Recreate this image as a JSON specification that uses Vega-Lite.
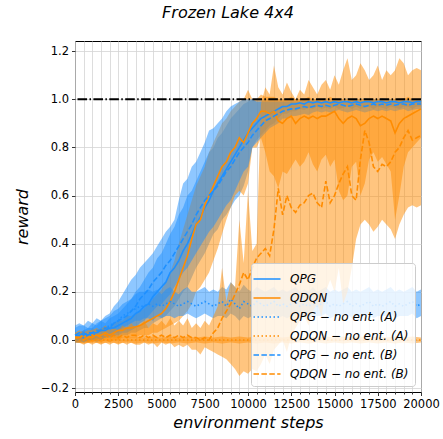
{
"$schema": "https://vega.github.io/schema/vega-lite/v6.json",
"width": 346, "height": 351,
"autosize": {"type": "none"},
"padding": {"left": 75, "top": 41, "right": 22, "bottom": 47},
"background": "white",
"title": {"text": "Frozen Lake 4x4", "font": "DejaVu Sans", "fontSize": 16, "fontStyle": "italic", "fontWeight": "normal", "color": "#000", "anchor": "middle", "dx": -20, "offset": 7, "baseline": "alphabetic"},
"data": {"values": [
{"s":"QPG","x":0,"m":0.02,"lo":-0.01,"hi":0.05},{"s":"QPG","x":250,"m":0.02,"lo":-0.01,"hi":0.06},{"s":"QPG","x":500,"m":0.03,"lo":0,"hi":0.06},{"s":"QPG","x":750,"m":0.02,"lo":-0.01,"hi":0.05},{"s":"QPG","x":1000,"m":0.03,"lo":0,"hi":0.07},{"s":"QPG","x":1250,"m":0.03,"lo":-0.01,"hi":0.06},{"s":"QPG","x":1500,"m":0.04,"lo":0,"hi":0.08},{"s":"QPG","x":1750,"m":0.04,"lo":0.01,"hi":0.07},{"s":"QPG","x":2000,"m":0.05,"lo":0.01,"hi":0.09},{"s":"QPG","x":2250,"m":0.05,"lo":0.01,"hi":0.1},{"s":"QPG","x":2500,"m":0.06,"lo":0.01,"hi":0.11},{"s":"QPG","x":2750,"m":0.07,"lo":0.02,"hi":0.13},{"s":"QPG","x":3000,"m":0.08,"lo":0.02,"hi":0.15},{"s":"QPG","x":3250,"m":0.09,"lo":0.03,"hi":0.17},{"s":"QPG","x":3500,"m":0.11,"lo":0.03,"hi":0.2},{"s":"QPG","x":3750,"m":0.12,"lo":0.04,"hi":0.22},{"s":"QPG","x":4000,"m":0.14,"lo":0.05,"hi":0.25},{"s":"QPG","x":4250,"m":0.15,"lo":0.05,"hi":0.28},{"s":"QPG","x":4500,"m":0.18,"lo":0.07,"hi":0.3},{"s":"QPG","x":4750,"m":0.2,"lo":0.08,"hi":0.34},{"s":"QPG","x":5000,"m":0.22,"lo":0.09,"hi":0.36},{"s":"QPG","x":5250,"m":0.24,"lo":0.1,"hi":0.4},{"s":"QPG","x":5500,"m":0.28,"lo":0.12,"hi":0.44},{"s":"QPG","x":5750,"m":0.3,"lo":0.14,"hi":0.47},{"s":"QPG","x":6000,"m":0.33,"lo":0.17,"hi":0.52},{"s":"QPG","x":6250,"m":0.37,"lo":0.2,"hi":0.55},{"s":"QPG","x":6500,"m":0.4,"lo":0.22,"hi":0.6},{"s":"QPG","x":6750,"m":0.44,"lo":0.26,"hi":0.62},{"s":"QPG","x":7000,"m":0.48,"lo":0.3,"hi":0.66},{"s":"QPG","x":7250,"m":0.51,"lo":0.33,"hi":0.7},{"s":"QPG","x":7500,"m":0.55,"lo":0.36,"hi":0.74},{"s":"QPG","x":7750,"m":0.58,"lo":0.4,"hi":0.78},{"s":"QPG","x":8000,"m":0.62,"lo":0.44,"hi":0.8},{"s":"QPG","x":8250,"m":0.65,"lo":0.46,"hi":0.84},{"s":"QPG","x":8500,"m":0.68,"lo":0.5,"hi":0.86},{"s":"QPG","x":8750,"m":0.71,"lo":0.52,"hi":0.89},{"s":"QPG","x":9000,"m":0.74,"lo":0.55,"hi":0.92},{"s":"QPG","x":9250,"m":0.77,"lo":0.58,"hi":0.94},{"s":"QPG","x":9500,"m":0.8,"lo":0.6,"hi":0.96},{"s":"QPG","x":9750,"m":0.83,"lo":0.64,"hi":0.98},{"s":"QPG","x":10000,"m":0.86,"lo":0.7,"hi":0.99},{"s":"QPG","x":10250,"m":0.88,"lo":0.8,"hi":1.0},{"s":"QPG","x":10500,"m":0.9,"lo":0.83,"hi":1.0},{"s":"QPG","x":10750,"m":0.92,"lo":0.85,"hi":1.0},{"s":"QPG","x":11000,"m":0.93,"lo":0.87,"hi":1.0},{"s":"QPG","x":11250,"m":0.94,"lo":0.89,"hi":1.0},{"s":"QPG","x":11500,"m":0.95,"lo":0.9,"hi":1.0},{"s":"QPG","x":11750,"m":0.96,"lo":0.92,"hi":1.0},{"s":"QPG","x":12000,"m":0.97,"lo":0.94,"hi":1.0},{"s":"QPG","x":12250,"m":0.97,"lo":0.94,"hi":1.0},{"s":"QPG","x":12500,"m":0.98,"lo":0.95,"hi":1.0},{"s":"QPG","x":12750,"m":0.98,"lo":0.95,"hi":1.0},{"s":"QPG","x":13000,"m":0.985,"lo":0.96,"hi":1.0},{"s":"QPG","x":13250,"m":0.98,"lo":0.955,"hi":1.0},{"s":"QPG","x":13500,"m":0.99,"lo":0.965,"hi":1.005},{"s":"QPG","x":13750,"m":0.985,"lo":0.96,"hi":1.0},{"s":"QPG","x":14000,"m":0.99,"lo":0.97,"hi":1.0},{"s":"QPG","x":14250,"m":0.985,"lo":0.96,"hi":1.0},{"s":"QPG","x":14500,"m":0.99,"lo":0.965,"hi":1.005},{"s":"QPG","x":14750,"m":0.985,"lo":0.96,"hi":1.0},{"s":"QPG","x":15000,"m":0.99,"lo":0.97,"hi":1.0},{"s":"QPG","x":15250,"m":0.985,"lo":0.96,"hi":1.0},{"s":"QPG","x":15500,"m":0.99,"lo":0.965,"hi":1.0},{"s":"QPG","x":15750,"m":0.99,"lo":0.97,"hi":1.005},{"s":"QPG","x":16000,"m":0.985,"lo":0.96,"hi":1.0},{"s":"QPG","x":16250,"m":0.99,"lo":0.97,"hi":1.0},{"s":"QPG","x":16500,"m":0.985,"lo":0.96,"hi":1.0},{"s":"QPG","x":16750,"m":0.99,"lo":0.965,"hi":1.005},{"s":"QPG","x":17000,"m":0.99,"lo":0.97,"hi":1.0},{"s":"QPG","x":17250,"m":0.985,"lo":0.96,"hi":1.0},{"s":"QPG","x":17500,"m":0.99,"lo":0.97,"hi":1.0},{"s":"QPG","x":17750,"m":0.99,"lo":0.965,"hi":1.005},{"s":"QPG","x":18000,"m":0.985,"lo":0.96,"hi":1.0},{"s":"QPG","x":18250,"m":0.99,"lo":0.97,"hi":1.0},{"s":"QPG","x":18500,"m":0.99,"lo":0.965,"hi":1.0},{"s":"QPG","x":18750,"m":0.985,"lo":0.96,"hi":1.0},{"s":"QPG","x":19000,"m":0.99,"lo":0.97,"hi":1.005},{"s":"QPG","x":19250,"m":0.99,"lo":0.97,"hi":1.0},{"s":"QPG","x":19500,"m":0.985,"lo":0.96,"hi":1.0},{"s":"QPG","x":19750,"m":0.99,"lo":0.97,"hi":1.0},{"s":"QPG","x":20000,"m":0.99,"lo":0.97,"hi":1.0},
{"s":"QDQN","x":0,"m":0.01,"lo":-0.01,"hi":0.03},{"s":"QDQN","x":250,"m":0.01,"lo":-0.01,"hi":0.03},{"s":"QDQN","x":500,"m":0.02,"lo":-0.01,"hi":0.04},{"s":"QDQN","x":750,"m":0.01,"lo":-0.01,"hi":0.03},{"s":"QDQN","x":1000,"m":0.02,"lo":-0.01,"hi":0.05},{"s":"QDQN","x":1250,"m":0.02,"lo":0,"hi":0.04},{"s":"QDQN","x":1500,"m":0.02,"lo":-0.01,"hi":0.05},{"s":"QDQN","x":1750,"m":0.03,"lo":0,"hi":0.06},{"s":"QDQN","x":2000,"m":0.02,"lo":-0.01,"hi":0.05},{"s":"QDQN","x":2250,"m":0.03,"lo":0,"hi":0.07},{"s":"QDQN","x":2500,"m":0.04,"lo":0,"hi":0.08},{"s":"QDQN","x":2750,"m":0.04,"lo":0.01,"hi":0.08},{"s":"QDQN","x":3000,"m":0.05,"lo":0.01,"hi":0.1},{"s":"QDQN","x":3250,"m":0.05,"lo":0.01,"hi":0.1},{"s":"QDQN","x":3500,"m":0.055,"lo":0.01,"hi":0.11},{"s":"QDQN","x":3750,"m":0.06,"lo":0.02,"hi":0.12},{"s":"QDQN","x":4000,"m":0.07,"lo":0.02,"hi":0.13},{"s":"QDQN","x":4250,"m":0.08,"lo":0.02,"hi":0.15},{"s":"QDQN","x":4500,"m":0.09,"lo":0.03,"hi":0.17},{"s":"QDQN","x":4750,"m":0.1,"lo":0.03,"hi":0.19},{"s":"QDQN","x":5000,"m":0.11,"lo":0.04,"hi":0.21},{"s":"QDQN","x":5250,"m":0.13,"lo":0.05,"hi":0.24},{"s":"QDQN","x":5500,"m":0.16,"lo":0.06,"hi":0.28},{"s":"QDQN","x":5750,"m":0.2,"lo":0.07,"hi":0.33},{"s":"QDQN","x":6000,"m":0.25,"lo":0.08,"hi":0.4},{"s":"QDQN","x":6250,"m":0.3,"lo":0.1,"hi":0.46},{"s":"QDQN","x":6500,"m":0.35,"lo":0.12,"hi":0.52},{"s":"QDQN","x":6750,"m":0.42,"lo":0.15,"hi":0.58},{"s":"QDQN","x":7000,"m":0.48,"lo":0.2,"hi":0.64},{"s":"QDQN","x":7250,"m":0.5,"lo":0.22,"hi":0.68},{"s":"QDQN","x":7500,"m":0.56,"lo":0.25,"hi":0.72},{"s":"QDQN","x":7750,"m":0.6,"lo":0.28,"hi":0.78},{"s":"QDQN","x":8000,"m":0.64,"lo":0.33,"hi":0.82},{"s":"QDQN","x":8250,"m":0.68,"lo":0.38,"hi":0.86},{"s":"QDQN","x":8500,"m":0.72,"lo":0.44,"hi":0.9},{"s":"QDQN","x":8750,"m":0.74,"lo":0.5,"hi":0.92},{"s":"QDQN","x":9000,"m":0.78,"lo":0.55,"hi":0.95},{"s":"QDQN","x":9250,"m":0.8,"lo":0.6,"hi":0.97},{"s":"QDQN","x":9500,"m":0.84,"lo":0.62,"hi":0.99},{"s":"QDQN","x":9750,"m":0.82,"lo":0.6,"hi":1.0},{"s":"QDQN","x":10000,"m":0.86,"lo":0.65,"hi":1.04},{"s":"QDQN","x":10250,"m":0.9,"lo":0.8,"hi":1.0},{"s":"QDQN","x":10500,"m":0.92,"lo":0.8,"hi":1.0},{"s":"QDQN","x":10750,"m":0.95,"lo":0.84,"hi":1.02},{"s":"QDQN","x":11000,"m":0.95,"lo":0.78,"hi":1.01},{"s":"QDQN","x":11250,"m":0.94,"lo":0.7,"hi":1.01},{"s":"QDQN","x":11500,"m":0.95,"lo":0.68,"hi":1.01},{"s":"QDQN","x":11750,"m":0.91,"lo":0.63,"hi":1.0},{"s":"QDQN","x":12000,"m":0.9,"lo":0.7,"hi":1.0},{"s":"QDQN","x":12250,"m":0.92,"lo":0.69,"hi":1.0},{"s":"QDQN","x":12500,"m":0.93,"lo":0.72,"hi":1.01},{"s":"QDQN","x":12750,"m":0.9,"lo":0.75,"hi":1.0},{"s":"QDQN","x":13000,"m":0.92,"lo":0.72,"hi":1.0},{"s":"QDQN","x":13250,"m":0.93,"lo":0.74,"hi":1.0},{"s":"QDQN","x":13500,"m":0.92,"lo":0.78,"hi":1.01},{"s":"QDQN","x":13750,"m":0.93,"lo":0.73,"hi":1.0},{"s":"QDQN","x":14000,"m":0.92,"lo":0.7,"hi":1.0},{"s":"QDQN","x":14250,"m":0.93,"lo":0.75,"hi":1.0},{"s":"QDQN","x":14500,"m":0.93,"lo":0.77,"hi":1.0},{"s":"QDQN","x":14750,"m":0.94,"lo":0.72,"hi":1.01},{"s":"QDQN","x":15000,"m":0.95,"lo":0.75,"hi":1.0},{"s":"QDQN","x":15250,"m":0.92,"lo":0.62,"hi":1.0},{"s":"QDQN","x":15500,"m":0.9,"lo":0.58,"hi":1.0},{"s":"QDQN","x":15750,"m":0.92,"lo":0.6,"hi":1.0},{"s":"QDQN","x":16000,"m":0.93,"lo":0.72,"hi":1.0},{"s":"QDQN","x":16250,"m":0.92,"lo":0.74,"hi":1.0},{"s":"QDQN","x":16500,"m":0.89,"lo":0.6,"hi":1.0},{"s":"QDQN","x":16750,"m":0.9,"lo":0.65,"hi":1.0},{"s":"QDQN","x":17000,"m":0.92,"lo":0.75,"hi":1.0},{"s":"QDQN","x":17250,"m":0.93,"lo":0.78,"hi":1.0},{"s":"QDQN","x":17500,"m":0.92,"lo":0.74,"hi":1.0},{"s":"QDQN","x":17750,"m":0.93,"lo":0.76,"hi":1.0},{"s":"QDQN","x":18000,"m":0.92,"lo":0.73,"hi":1.0},{"s":"QDQN","x":18250,"m":0.91,"lo":0.7,"hi":1.0},{"s":"QDQN","x":18500,"m":0.86,"lo":0.5,"hi":1.0},{"s":"QDQN","x":18750,"m":0.9,"lo":0.6,"hi":1.0},{"s":"QDQN","x":19000,"m":0.92,"lo":0.72,"hi":1.0},{"s":"QDQN","x":19250,"m":0.93,"lo":0.78,"hi":1.01},{"s":"QDQN","x":19500,"m":0.94,"lo":0.8,"hi":1.0},{"s":"QDQN","x":19750,"m":0.95,"lo":0.82,"hi":1.0},{"s":"QDQN","x":20000,"m":0.96,"lo":0.84,"hi":1.0},
{"s":"QPG-A","x":0,"m":0,"lo":-0.01,"hi":0.02},{"s":"QPG-A","x":250,"m":0.01,"lo":-0.01,"hi":0.03},{"s":"QPG-A","x":500,"m":0.01,"lo":-0.01,"hi":0.04},{"s":"QPG-A","x":750,"m":0.02,"lo":0,"hi":0.05},{"s":"QPG-A","x":1000,"m":0.02,"lo":0,"hi":0.05},{"s":"QPG-A","x":1250,"m":0.03,"lo":0,"hi":0.07},{"s":"QPG-A","x":1500,"m":0.04,"lo":0.01,"hi":0.08},{"s":"QPG-A","x":1750,"m":0.05,"lo":0.01,"hi":0.09},{"s":"QPG-A","x":2000,"m":0.06,"lo":0.02,"hi":0.1},{"s":"QPG-A","x":2250,"m":0.07,"lo":0.03,"hi":0.12},{"s":"QPG-A","x":2500,"m":0.08,"lo":0.03,"hi":0.13},{"s":"QPG-A","x":2750,"m":0.1,"lo":0.05,"hi":0.15},{"s":"QPG-A","x":3000,"m":0.11,"lo":0.06,"hi":0.16},{"s":"QPG-A","x":3250,"m":0.12,"lo":0.07,"hi":0.17},{"s":"QPG-A","x":3500,"m":0.13,"lo":0.08,"hi":0.19},{"s":"QPG-A","x":3750,"m":0.14,"lo":0.08,"hi":0.2},{"s":"QPG-A","x":4000,"m":0.14,"lo":0.09,"hi":0.2},{"s":"QPG-A","x":4250,"m":0.15,"lo":0.09,"hi":0.21},{"s":"QPG-A","x":4500,"m":0.14,"lo":0.08,"hi":0.2},{"s":"QPG-A","x":4750,"m":0.15,"lo":0.1,"hi":0.21},{"s":"QPG-A","x":5000,"m":0.14,"lo":0.09,"hi":0.19},{"s":"QPG-A","x":5250,"m":0.15,"lo":0.1,"hi":0.21},{"s":"QPG-A","x":5500,"m":0.16,"lo":0.1,"hi":0.22},{"s":"QPG-A","x":5750,"m":0.15,"lo":0.09,"hi":0.2},{"s":"QPG-A","x":6000,"m":0.14,"lo":0.1,"hi":0.19},{"s":"QPG-A","x":6250,"m":0.15,"lo":0.1,"hi":0.21},{"s":"QPG-A","x":6500,"m":0.16,"lo":0.11,"hi":0.22},{"s":"QPG-A","x":6750,"m":0.15,"lo":0.1,"hi":0.2},{"s":"QPG-A","x":7000,"m":0.14,"lo":0.09,"hi":0.2},{"s":"QPG-A","x":7250,"m":0.15,"lo":0.1,"hi":0.21},{"s":"QPG-A","x":7500,"m":0.16,"lo":0.11,"hi":0.22},{"s":"QPG-A","x":7750,"m":0.15,"lo":0.1,"hi":0.2},{"s":"QPG-A","x":8000,"m":0.14,"lo":0.09,"hi":0.21},{"s":"QPG-A","x":8250,"m":0.15,"lo":0.1,"hi":0.2},{"s":"QPG-A","x":8500,"m":0.16,"lo":0.1,"hi":0.22},{"s":"QPG-A","x":8750,"m":0.14,"lo":0.09,"hi":0.21},{"s":"QPG-A","x":9000,"m":0.17,"lo":0.11,"hi":0.24},{"s":"QPG-A","x":9250,"m":0.15,"lo":0.1,"hi":0.22},{"s":"QPG-A","x":9500,"m":0.13,"lo":0.08,"hi":0.2},{"s":"QPG-A","x":9750,"m":0.16,"lo":0.1,"hi":0.23},{"s":"QPG-A","x":10000,"m":0.15,"lo":0.09,"hi":0.21},{"s":"QPG-A","x":10250,"m":0.14,"lo":0.1,"hi":0.2},{"s":"QPG-A","x":10500,"m":0.16,"lo":0.1,"hi":0.22},{"s":"QPG-A","x":10750,"m":0.15,"lo":0.09,"hi":0.21},{"s":"QPG-A","x":11000,"m":0.14,"lo":0.1,"hi":0.2},{"s":"QPG-A","x":11250,"m":0.15,"lo":0.1,"hi":0.21},{"s":"QPG-A","x":11500,"m":0.16,"lo":0.11,"hi":0.22},{"s":"QPG-A","x":11750,"m":0.14,"lo":0.09,"hi":0.2},{"s":"QPG-A","x":12000,"m":0.15,"lo":0.1,"hi":0.21},{"s":"QPG-A","x":12250,"m":0.14,"lo":0.09,"hi":0.2},{"s":"QPG-A","x":12500,"m":0.15,"lo":0.1,"hi":0.21},{"s":"QPG-A","x":12750,"m":0.16,"lo":0.11,"hi":0.22},{"s":"QPG-A","x":13000,"m":0.14,"lo":0.1,"hi":0.2},{"s":"QPG-A","x":13250,"m":0.15,"lo":0.1,"hi":0.21},{"s":"QPG-A","x":13500,"m":0.14,"lo":0.09,"hi":0.2},{"s":"QPG-A","x":13750,"m":0.15,"lo":0.1,"hi":0.22},{"s":"QPG-A","x":14000,"m":0.14,"lo":0.1,"hi":0.2},{"s":"QPG-A","x":14250,"m":0.15,"lo":0.1,"hi":0.21},{"s":"QPG-A","x":14500,"m":0.16,"lo":0.11,"hi":0.22},{"s":"QPG-A","x":14750,"m":0.14,"lo":0.09,"hi":0.2},{"s":"QPG-A","x":15000,"m":0.15,"lo":0.1,"hi":0.21},{"s":"QPG-A","x":15250,"m":0.14,"lo":0.1,"hi":0.2},{"s":"QPG-A","x":15500,"m":0.15,"lo":0.1,"hi":0.21},{"s":"QPG-A","x":15750,"m":0.16,"lo":0.11,"hi":0.22},{"s":"QPG-A","x":16000,"m":0.14,"lo":0.09,"hi":0.2},{"s":"QPG-A","x":16250,"m":0.15,"lo":0.1,"hi":0.21},{"s":"QPG-A","x":16500,"m":0.14,"lo":0.1,"hi":0.2},{"s":"QPG-A","x":16750,"m":0.15,"lo":0.1,"hi":0.21},{"s":"QPG-A","x":17000,"m":0.16,"lo":0.11,"hi":0.22},{"s":"QPG-A","x":17250,"m":0.14,"lo":0.09,"hi":0.2},{"s":"QPG-A","x":17500,"m":0.15,"lo":0.1,"hi":0.21},{"s":"QPG-A","x":17750,"m":0.14,"lo":0.1,"hi":0.2},{"s":"QPG-A","x":18000,"m":0.15,"lo":0.1,"hi":0.21},{"s":"QPG-A","x":18250,"m":0.16,"lo":0.11,"hi":0.22},{"s":"QPG-A","x":18500,"m":0.14,"lo":0.09,"hi":0.2},{"s":"QPG-A","x":18750,"m":0.15,"lo":0.1,"hi":0.21},{"s":"QPG-A","x":19000,"m":0.14,"lo":0.1,"hi":0.2},{"s":"QPG-A","x":19250,"m":0.15,"lo":0.1,"hi":0.21},{"s":"QPG-A","x":19500,"m":0.16,"lo":0.11,"hi":0.22},{"s":"QPG-A","x":19750,"m":0.14,"lo":0.09,"hi":0.2},{"s":"QPG-A","x":20000,"m":0.15,"lo":0.1,"hi":0.21},
{"s":"QDQN-A","x":0,"m":0,"lo":-0.01,"hi":0.01},{"s":"QDQN-A","x":500,"m":0,"lo":-0.015,"hi":0.015},{"s":"QDQN-A","x":1000,"m":0,"lo":-0.01,"hi":0.01},{"s":"QDQN-A","x":1500,"m":0,"lo":-0.015,"hi":0.015},{"s":"QDQN-A","x":2000,"m":0,"lo":-0.01,"hi":0.01},{"s":"QDQN-A","x":2500,"m":0,"lo":-0.015,"hi":0.015},{"s":"QDQN-A","x":3000,"m":0,"lo":-0.01,"hi":0.01},{"s":"QDQN-A","x":3500,"m":0,"lo":-0.015,"hi":0.015},{"s":"QDQN-A","x":4000,"m":0,"lo":-0.01,"hi":0.01},{"s":"QDQN-A","x":4500,"m":0,"lo":-0.015,"hi":0.015},{"s":"QDQN-A","x":5000,"m":0,"lo":-0.01,"hi":0.01},{"s":"QDQN-A","x":5500,"m":0,"lo":-0.015,"hi":0.015},{"s":"QDQN-A","x":6000,"m":0,"lo":-0.01,"hi":0.01},{"s":"QDQN-A","x":6500,"m":0,"lo":-0.015,"hi":0.015},{"s":"QDQN-A","x":7000,"m":0,"lo":-0.01,"hi":0.01},{"s":"QDQN-A","x":7500,"m":0,"lo":-0.015,"hi":0.015},{"s":"QDQN-A","x":8000,"m":0,"lo":-0.01,"hi":0.01},{"s":"QDQN-A","x":8500,"m":0,"lo":-0.015,"hi":0.015},{"s":"QDQN-A","x":9000,"m":0,"lo":-0.01,"hi":0.01},{"s":"QDQN-A","x":9500,"m":0,"lo":-0.015,"hi":0.015},{"s":"QDQN-A","x":10000,"m":0,"lo":-0.01,"hi":0.01},{"s":"QDQN-A","x":10500,"m":0,"lo":-0.015,"hi":0.015},{"s":"QDQN-A","x":11000,"m":0,"lo":-0.01,"hi":0.01},{"s":"QDQN-A","x":11500,"m":0,"lo":-0.015,"hi":0.015},{"s":"QDQN-A","x":12000,"m":0,"lo":-0.01,"hi":0.01},{"s":"QDQN-A","x":12500,"m":0,"lo":-0.015,"hi":0.015},{"s":"QDQN-A","x":13000,"m":0,"lo":-0.01,"hi":0.01},{"s":"QDQN-A","x":13500,"m":0,"lo":-0.015,"hi":0.015},{"s":"QDQN-A","x":14000,"m":0,"lo":-0.01,"hi":0.01},{"s":"QDQN-A","x":14500,"m":0,"lo":-0.015,"hi":0.015},{"s":"QDQN-A","x":15000,"m":0,"lo":-0.01,"hi":0.01},{"s":"QDQN-A","x":15500,"m":0,"lo":-0.015,"hi":0.015},{"s":"QDQN-A","x":16000,"m":0,"lo":-0.01,"hi":0.01},{"s":"QDQN-A","x":16500,"m":0,"lo":-0.015,"hi":0.015},{"s":"QDQN-A","x":17000,"m":0,"lo":-0.01,"hi":0.01},{"s":"QDQN-A","x":17500,"m":0,"lo":-0.015,"hi":0.015},{"s":"QDQN-A","x":18000,"m":0,"lo":-0.01,"hi":0.01},{"s":"QDQN-A","x":18500,"m":0,"lo":-0.015,"hi":0.015},{"s":"QDQN-A","x":19000,"m":0,"lo":-0.01,"hi":0.01},{"s":"QDQN-A","x":19500,"m":0,"lo":-0.015,"hi":0.015},{"s":"QDQN-A","x":20000,"m":0,"lo":-0.01,"hi":0.01},
{"s":"QPG-B","x":0,"m":0.02,"lo":-0.01,"hi":0.06},{"s":"QPG-B","x":250,"m":0.03,"lo":0,"hi":0.07},{"s":"QPG-B","x":500,"m":0.02,"lo":-0.01,"hi":0.06},{"s":"QPG-B","x":750,"m":0.03,"lo":0,"hi":0.08},{"s":"QPG-B","x":1000,"m":0.03,"lo":0,"hi":0.07},{"s":"QPG-B","x":1250,"m":0.04,"lo":0.01,"hi":0.09},{"s":"QPG-B","x":1500,"m":0.04,"lo":0,"hi":0.08},{"s":"QPG-B","x":1750,"m":0.05,"lo":0.01,"hi":0.1},{"s":"QPG-B","x":2000,"m":0.05,"lo":0.01,"hi":0.11},{"s":"QPG-B","x":2250,"m":0.07,"lo":0.02,"hi":0.14},{"s":"QPG-B","x":2500,"m":0.08,"lo":0.02,"hi":0.16},{"s":"QPG-B","x":2750,"m":0.09,"lo":0.03,"hi":0.19},{"s":"QPG-B","x":3000,"m":0.1,"lo":0.03,"hi":0.22},{"s":"QPG-B","x":3250,"m":0.12,"lo":0.04,"hi":0.25},{"s":"QPG-B","x":3500,"m":0.14,"lo":0.05,"hi":0.27},{"s":"QPG-B","x":3750,"m":0.17,"lo":0.07,"hi":0.3},{"s":"QPG-B","x":4000,"m":0.19,"lo":0.08,"hi":0.32},{"s":"QPG-B","x":4250,"m":0.21,"lo":0.1,"hi":0.34},{"s":"QPG-B","x":4500,"m":0.24,"lo":0.12,"hi":0.36},{"s":"QPG-B","x":4750,"m":0.26,"lo":0.14,"hi":0.39},{"s":"QPG-B","x":5000,"m":0.28,"lo":0.15,"hi":0.42},{"s":"QPG-B","x":5250,"m":0.31,"lo":0.17,"hi":0.45},{"s":"QPG-B","x":5500,"m":0.33,"lo":0.19,"hi":0.47},{"s":"QPG-B","x":5750,"m":0.36,"lo":0.22,"hi":0.5},{"s":"QPG-B","x":6000,"m":0.39,"lo":0.25,"hi":0.58},{"s":"QPG-B","x":6250,"m":0.42,"lo":0.28,"hi":0.65},{"s":"QPG-B","x":6500,"m":0.45,"lo":0.3,"hi":0.67},{"s":"QPG-B","x":6750,"m":0.48,"lo":0.33,"hi":0.72},{"s":"QPG-B","x":7000,"m":0.52,"lo":0.36,"hi":0.74},{"s":"QPG-B","x":7250,"m":0.55,"lo":0.39,"hi":0.78},{"s":"QPG-B","x":7500,"m":0.58,"lo":0.42,"hi":0.82},{"s":"QPG-B","x":7750,"m":0.6,"lo":0.45,"hi":0.87},{"s":"QPG-B","x":8000,"m":0.62,"lo":0.47,"hi":0.88},{"s":"QPG-B","x":8250,"m":0.64,"lo":0.5,"hi":0.9},{"s":"QPG-B","x":8500,"m":0.67,"lo":0.53,"hi":0.92},{"s":"QPG-B","x":8750,"m":0.7,"lo":0.56,"hi":0.95},{"s":"QPG-B","x":9000,"m":0.72,"lo":0.58,"hi":0.97},{"s":"QPG-B","x":9250,"m":0.75,"lo":0.62,"hi":0.98},{"s":"QPG-B","x":9500,"m":0.78,"lo":0.66,"hi":0.99},{"s":"QPG-B","x":9750,"m":0.8,"lo":0.7,"hi":1.0},{"s":"QPG-B","x":10000,"m":0.82,"lo":0.72,"hi":1.0},{"s":"QPG-B","x":10250,"m":0.85,"lo":0.8,"hi":1.0},{"s":"QPG-B","x":10500,"m":0.87,"lo":0.82,"hi":0.99},{"s":"QPG-B","x":10750,"m":0.89,"lo":0.84,"hi":0.99},{"s":"QPG-B","x":11000,"m":0.91,"lo":0.86,"hi":0.99},{"s":"QPG-B","x":11250,"m":0.92,"lo":0.88,"hi":0.99},{"s":"QPG-B","x":11500,"m":0.93,"lo":0.89,"hi":0.99},{"s":"QPG-B","x":11750,"m":0.94,"lo":0.9,"hi":0.99},{"s":"QPG-B","x":12000,"m":0.95,"lo":0.92,"hi":0.99},{"s":"QPG-B","x":12250,"m":0.955,"lo":0.92,"hi":0.99},{"s":"QPG-B","x":12500,"m":0.96,"lo":0.93,"hi":0.99},{"s":"QPG-B","x":12750,"m":0.96,"lo":0.93,"hi":0.99},{"s":"QPG-B","x":13000,"m":0.965,"lo":0.935,"hi":0.99},{"s":"QPG-B","x":13250,"m":0.97,"lo":0.94,"hi":0.995},{"s":"QPG-B","x":13500,"m":0.965,"lo":0.935,"hi":0.99},{"s":"QPG-B","x":13750,"m":0.97,"lo":0.945,"hi":0.995},{"s":"QPG-B","x":14000,"m":0.975,"lo":0.95,"hi":0.995},{"s":"QPG-B","x":14250,"m":0.97,"lo":0.945,"hi":0.99},{"s":"QPG-B","x":14500,"m":0.975,"lo":0.95,"hi":0.995},{"s":"QPG-B","x":14750,"m":0.97,"lo":0.945,"hi":0.99},{"s":"QPG-B","x":15000,"m":0.975,"lo":0.95,"hi":0.995},{"s":"QPG-B","x":15250,"m":0.98,"lo":0.955,"hi":1.0},{"s":"QPG-B","x":15500,"m":0.975,"lo":0.95,"hi":0.995},{"s":"QPG-B","x":15750,"m":0.97,"lo":0.945,"hi":0.99},{"s":"QPG-B","x":16000,"m":0.975,"lo":0.95,"hi":0.995},{"s":"QPG-B","x":16250,"m":0.98,"lo":0.955,"hi":1.0},{"s":"QPG-B","x":16500,"m":0.975,"lo":0.95,"hi":0.995},{"s":"QPG-B","x":16750,"m":0.97,"lo":0.945,"hi":0.99},{"s":"QPG-B","x":17000,"m":0.975,"lo":0.95,"hi":0.995},{"s":"QPG-B","x":17250,"m":0.98,"lo":0.955,"hi":1.0},{"s":"QPG-B","x":17500,"m":0.975,"lo":0.95,"hi":0.995},{"s":"QPG-B","x":17750,"m":0.98,"lo":0.955,"hi":1.0},{"s":"QPG-B","x":18000,"m":0.975,"lo":0.95,"hi":0.995},{"s":"QPG-B","x":18250,"m":0.98,"lo":0.955,"hi":1.0},{"s":"QPG-B","x":18500,"m":0.975,"lo":0.95,"hi":0.995},{"s":"QPG-B","x":18750,"m":0.98,"lo":0.955,"hi":1.0},{"s":"QPG-B","x":19000,"m":0.98,"lo":0.96,"hi":1.0},{"s":"QPG-B","x":19250,"m":0.975,"lo":0.95,"hi":0.995},{"s":"QPG-B","x":19500,"m":0.98,"lo":0.955,"hi":1.0},{"s":"QPG-B","x":19750,"m":0.98,"lo":0.96,"hi":1.0},{"s":"QPG-B","x":20000,"m":0.98,"lo":0.96,"hi":1.0},
{"s":"QDQN-B","x":0,"m":0.01,"lo":-0.01,"hi":0.03},{"s":"QDQN-B","x":250,"m":0.01,"lo":-0.01,"hi":0.04},{"s":"QDQN-B","x":500,"m":0,"lo":-0.02,"hi":0.03},{"s":"QDQN-B","x":750,"m":0.01,"lo":-0.01,"hi":0.04},{"s":"QDQN-B","x":1000,"m":0.01,"lo":-0.02,"hi":0.04},{"s":"QDQN-B","x":1250,"m":0.02,"lo":-0.01,"hi":0.05},{"s":"QDQN-B","x":1500,"m":0.01,"lo":-0.02,"hi":0.04},{"s":"QDQN-B","x":1750,"m":0.02,"lo":-0.01,"hi":0.06},{"s":"QDQN-B","x":2000,"m":0.01,"lo":-0.02,"hi":0.04},{"s":"QDQN-B","x":2250,"m":0.02,"lo":-0.01,"hi":0.05},{"s":"QDQN-B","x":2500,"m":0.01,"lo":-0.02,"hi":0.04},{"s":"QDQN-B","x":2750,"m":0.02,"lo":-0.01,"hi":0.06},{"s":"QDQN-B","x":3000,"m":0.01,"lo":-0.02,"hi":0.05},{"s":"QDQN-B","x":3250,"m":0.02,"lo":-0.01,"hi":0.07},{"s":"QDQN-B","x":3500,"m":0.02,"lo":-0.02,"hi":0.05},{"s":"QDQN-B","x":3750,"m":0.01,"lo":-0.02,"hi":0.06},{"s":"QDQN-B","x":4000,"m":0.02,"lo":-0.01,"hi":0.08},{"s":"QDQN-B","x":4250,"m":0.01,"lo":-0.02,"hi":0.05},{"s":"QDQN-B","x":4500,"m":0.02,"lo":-0.01,"hi":0.07},{"s":"QDQN-B","x":4750,"m":0.01,"lo":-0.03,"hi":0.06},{"s":"QDQN-B","x":5000,"m":0.02,"lo":-0.01,"hi":0.08},{"s":"QDQN-B","x":5250,"m":0.01,"lo":-0.02,"hi":0.06},{"s":"QDQN-B","x":5500,"m":0.02,"lo":-0.01,"hi":0.09},{"s":"QDQN-B","x":5750,"m":0.01,"lo":-0.03,"hi":0.06},{"s":"QDQN-B","x":6000,"m":0.02,"lo":-0.02,"hi":0.08},{"s":"QDQN-B","x":6250,"m":0.01,"lo":-0.03,"hi":0.06},{"s":"QDQN-B","x":6500,"m":0.02,"lo":-0.02,"hi":0.09},{"s":"QDQN-B","x":6750,"m":0.01,"lo":-0.04,"hi":0.05},{"s":"QDQN-B","x":7000,"m":0.01,"lo":-0.04,"hi":0.07},{"s":"QDQN-B","x":7250,"m":0,"lo":-0.06,"hi":0.05},{"s":"QDQN-B","x":7500,"m":0.01,"lo":-0.03,"hi":0.08},{"s":"QDQN-B","x":7750,"m":0,"lo":-0.04,"hi":0.06},{"s":"QDQN-B","x":8000,"m":0.03,"lo":-0.05,"hi":0.1},{"s":"QDQN-B","x":8250,"m":0.05,"lo":-0.06,"hi":0.14},{"s":"QDQN-B","x":8500,"m":0.09,"lo":-0.07,"hi":0.3},{"s":"QDQN-B","x":8750,"m":0.12,"lo":-0.08,"hi":0.16},{"s":"QDQN-B","x":9000,"m":0.15,"lo":-0.1,"hi":0.24},{"s":"QDQN-B","x":9250,"m":0.19,"lo":-0.12,"hi":0.22},{"s":"QDQN-B","x":9500,"m":0.23,"lo":-0.15,"hi":0.5},{"s":"QDQN-B","x":9750,"m":0.28,"lo":-0.13,"hi":0.32},{"s":"QDQN-B","x":10000,"m":0.25,"lo":-0.14,"hi":0.62},{"s":"QDQN-B","x":10250,"m":0.3,"lo":-0.12,"hi":0.37},{"s":"QDQN-B","x":10500,"m":0.34,"lo":-0.13,"hi":0.4},{"s":"QDQN-B","x":10750,"m":0.36,"lo":-0.1,"hi":0.98},{"s":"QDQN-B","x":11000,"m":0.38,"lo":-0.06,"hi":1.05},{"s":"QDQN-B","x":11250,"m":0.35,"lo":-0.1,"hi":1.02},{"s":"QDQN-B","x":11500,"m":0.46,"lo":-0.04,"hi":1.14},{"s":"QDQN-B","x":11750,"m":0.63,"lo":-0.02,"hi":1.05},{"s":"QDQN-B","x":12000,"m":0.52,"lo":0,"hi":1.02},{"s":"QDQN-B","x":12250,"m":0.6,"lo":-0.05,"hi":1.07},{"s":"QDQN-B","x":12500,"m":0.55,"lo":0.02,"hi":1.03},{"s":"QDQN-B","x":12750,"m":0.53,"lo":0.05,"hi":1.0},{"s":"QDQN-B","x":13000,"m":0.56,"lo":0.08,"hi":1.04},{"s":"QDQN-B","x":13250,"m":0.57,"lo":0.1,"hi":1.02},{"s":"QDQN-B","x":13500,"m":0.6,"lo":0.06,"hi":1.08},{"s":"QDQN-B","x":13750,"m":0.61,"lo":0.12,"hi":1.05},{"s":"QDQN-B","x":14000,"m":0.57,"lo":0.15,"hi":1.02},{"s":"QDQN-B","x":14250,"m":0.55,"lo":0.1,"hi":1.06},{"s":"QDQN-B","x":14500,"m":0.66,"lo":0.2,"hi":1.08},{"s":"QDQN-B","x":14750,"m":0.57,"lo":0.25,"hi":1.04},{"s":"QDQN-B","x":15000,"m":0.6,"lo":0.2,"hi":1.1},{"s":"QDQN-B","x":15250,"m":0.65,"lo":0.3,"hi":1.06},{"s":"QDQN-B","x":15500,"m":0.69,"lo":0.15,"hi":1.12},{"s":"QDQN-B","x":15750,"m":0.72,"lo":0.2,"hi":1.17},{"s":"QDQN-B","x":16000,"m":0.6,"lo":0.3,"hi":1.08},{"s":"QDQN-B","x":16250,"m":0.58,"lo":0.42,"hi":1.1},{"s":"QDQN-B","x":16500,"m":0.75,"lo":0.48,"hi":1.15},{"s":"QDQN-B","x":16750,"m":0.87,"lo":0.5,"hi":1.12},{"s":"QDQN-B","x":17000,"m":0.82,"lo":0.48,"hi":1.08},{"s":"QDQN-B","x":17250,"m":0.72,"lo":0.45,"hi":1.1},{"s":"QDQN-B","x":17500,"m":0.7,"lo":0.47,"hi":1.14},{"s":"QDQN-B","x":17750,"m":0.73,"lo":0.5,"hi":1.08},{"s":"QDQN-B","x":18000,"m":0.72,"lo":0.48,"hi":1.12},{"s":"QDQN-B","x":18250,"m":0.74,"lo":0.46,"hi":1.1},{"s":"QDQN-B","x":18500,"m":0.78,"lo":0.42,"hi":1.12},{"s":"QDQN-B","x":18750,"m":0.8,"lo":0.48,"hi":1.17},{"s":"QDQN-B","x":19000,"m":0.84,"lo":0.52,"hi":1.15},{"s":"QDQN-B","x":19250,"m":0.87,"lo":0.55,"hi":1.1},{"s":"QDQN-B","x":19500,"m":0.83,"lo":0.56,"hi":1.12},{"s":"QDQN-B","x":19750,"m":0.84,"lo":0.55,"hi":1.13},{"s":"QDQN-B","x":20000,"m":0.85,"lo":0.56,"hi":1.12}
]},
"layer": [
{"mark": {"type": "area", "opacity": 0.5, "strokeWidth": 0},
 "encoding": {
  "x": {"field": "x", "type": "quantitative", "scale": {"domain": [0, 20000], "nice": false, "zero": false},
   "axis": {"title": "environment steps", "values": [0,500,1000,1500,2000,2500,3000,3500,4000,4500,5000,5500,6000,6500,7000,7500,8000,8500,9000,9500,10000,10500,11000,11500,12000,12500,13000,13500,14000,14500,15000,15500,16000,16500,17000,17500,18000,18500,19000,19500,20000], "format": "d",
    "labelExpr": "datum.value % 2500 === 0 ? datum.label : ''",
    "tickSize": {"condition": {"test": "datum.value % 2500 === 0", "value": 3.5}, "value": 2},
    "titlePadding": 4}},
  "y": {"field": "lo", "type": "quantitative", "scale": {"domain": [-0.216, 1.242], "nice": false, "zero": false},
   "axis": {"title": "reward", "values": [-0.2,-0.15,-0.1,-0.05,0,0.05,0.1,0.15,0.2,0.25,0.3,0.35,0.4,0.45,0.5,0.55,0.6,0.65,0.7,0.75,0.8,0.85,0.9,0.95,1.0,1.05,1.1,1.15,1.2], "format": ".1f",
    "labelExpr": "abs(round(datum.value*100)) % 20 === 0 ? replace(datum.label, '-', '−') : ''",
    "tickSize": {"condition": {"test": "abs(round(datum.value*100)) % 20 === 0", "value": 3.5}, "value": 2},
    "titlePadding": 10}},
  "y2": {"field": "hi"},
  "color": {"field": "s", "type": "nominal", "scale": {"domain": ["QPG","QDQN","QPG-A","QDQN-A","QPG-B","QDQN-B"], "range": ["#1e90ff","#ff8c00","#1e90ff","#ff8c00","#1e90ff","#ff8c00"]},
   "legend": {"title": null, "orient": "bottom-right", "offset": 6, "symbolType": "M-1.5,0L1.5,0", "symbolSize": 324, "symbolStrokeWidth": 1.5, "symbolOpacity": 1, "rowPadding": 3, "padding": 6, "labelOffset": 13, "fillColor": "rgba(255,255,255,0.8)", "strokeColor": "#cccccc", "cornerRadius": 3, "labelFont": "DejaVu Sans", "labelFontStyle": "italic", "labelFontSize": 12, "labelColor": "#000",
    "labelExpr": "replace(replace(datum.label, '-A', ' − no ent. (A)'), '-B', ' − no ent. (B)')"}}
 }},
{"mark": {"type": "line", "strokeWidth": 1.6},
 "encoding": {
  "x": {"field": "x", "type": "quantitative", "scale": {"domain": [0, 20000], "nice": false, "zero": false},
   "axis": {"title": "environment steps", "values": [0,500,1000,1500,2000,2500,3000,3500,4000,4500,5000,5500,6000,6500,7000,7500,8000,8500,9000,9500,10000,10500,11000,11500,12000,12500,13000,13500,14000,14500,15000,15500,16000,16500,17000,17500,18000,18500,19000,19500,20000], "format": "d",
    "labelExpr": "datum.value % 2500 === 0 ? datum.label : ''",
    "tickSize": {"condition": {"test": "datum.value % 2500 === 0", "value": 3.5}, "value": 2},
    "titlePadding": 4}},
  "y": {"field": "m", "type": "quantitative", "scale": {"domain": [-0.216, 1.242], "nice": false, "zero": false},
   "axis": {"title": "reward", "values": [-0.2,-0.15,-0.1,-0.05,0,0.05,0.1,0.15,0.2,0.25,0.3,0.35,0.4,0.45,0.5,0.55,0.6,0.65,0.7,0.75,0.8,0.85,0.9,0.95,1.0,1.05,1.1,1.15,1.2], "format": ".1f",
    "labelExpr": "abs(round(datum.value*100)) % 20 === 0 ? replace(datum.label, '-', '−') : ''",
    "tickSize": {"condition": {"test": "abs(round(datum.value*100)) % 20 === 0", "value": 3.5}, "value": 2},
    "titlePadding": 10}},
  "color": {"field": "s", "type": "nominal", "scale": {"domain": ["QPG","QDQN","QPG-A","QDQN-A","QPG-B","QDQN-B"], "range": ["#1e90ff","#ff8c00","#1e90ff","#ff8c00","#1e90ff","#ff8c00"]},
   "legend": {"title": null, "orient": "bottom-right", "offset": 6, "symbolType": "M-1.5,0L1.5,0", "symbolSize": 324, "symbolStrokeWidth": 1.5, "symbolOpacity": 1, "rowPadding": 3, "padding": 6, "labelOffset": 13, "fillColor": "rgba(255,255,255,0.8)", "strokeColor": "#cccccc", "cornerRadius": 3, "labelFont": "DejaVu Sans", "labelFontStyle": "italic", "labelFontSize": 12, "labelColor": "#000",
    "labelExpr": "replace(replace(datum.label, '-A', ' − no ent. (A)'), '-B', ' − no ent. (B)')"}},
  "strokeDash": {"field": "s", "type": "nominal", "scale": {"domain": ["QPG","QDQN","QPG-A","QDQN-A","QPG-B","QDQN-B"], "range": [[1,0],[1,0],[1.5,2.5],[1.5,2.5],[5.5,2.4],[5.5,2.4]]},
   "legend": {"title": null, "orient": "bottom-right", "offset": 6, "symbolType": "M-1.5,0L1.5,0", "symbolSize": 324, "symbolStrokeWidth": 1.5, "symbolOpacity": 1, "rowPadding": 3, "padding": 6, "labelOffset": 13, "fillColor": "rgba(255,255,255,0.8)", "strokeColor": "#cccccc", "cornerRadius": 3, "labelFont": "DejaVu Sans", "labelFontStyle": "italic", "labelFontSize": 12, "labelColor": "#000",
    "labelExpr": "replace(replace(datum.label, '-A', ' − no ent. (A)'), '-B', ' − no ent. (B)')"}}
 }},
{"data": {"values": [{"ref": 1}]},
 "mark": {"type": "rule", "color": "#000", "strokeWidth": 1.8, "strokeDash": [9.6, 2.4, 1.5, 2.4]},
 "encoding": {"y": {"field": "ref", "type": "quantitative"}}}
],
"config": {
 "view": {"stroke": "#000", "strokeWidth": 1},
 "axis": {"labelFont": "DejaVu Sans", "labelFontSize": 11.5, "labelColor": "#000", "titleFont": "DejaVu Sans", "titleFontSize": 16, "titleFontStyle": "italic", "titleFontWeight": "normal", "titleColor": "#000", "domain": false, "tickColor": "#000", "tickWidth": 0.8, "gridColor": "#d4d4d4", "gridWidth": 0.8, "labelFlush": false, "labelOverlap": false, "labelPadding": 3}
}
}
